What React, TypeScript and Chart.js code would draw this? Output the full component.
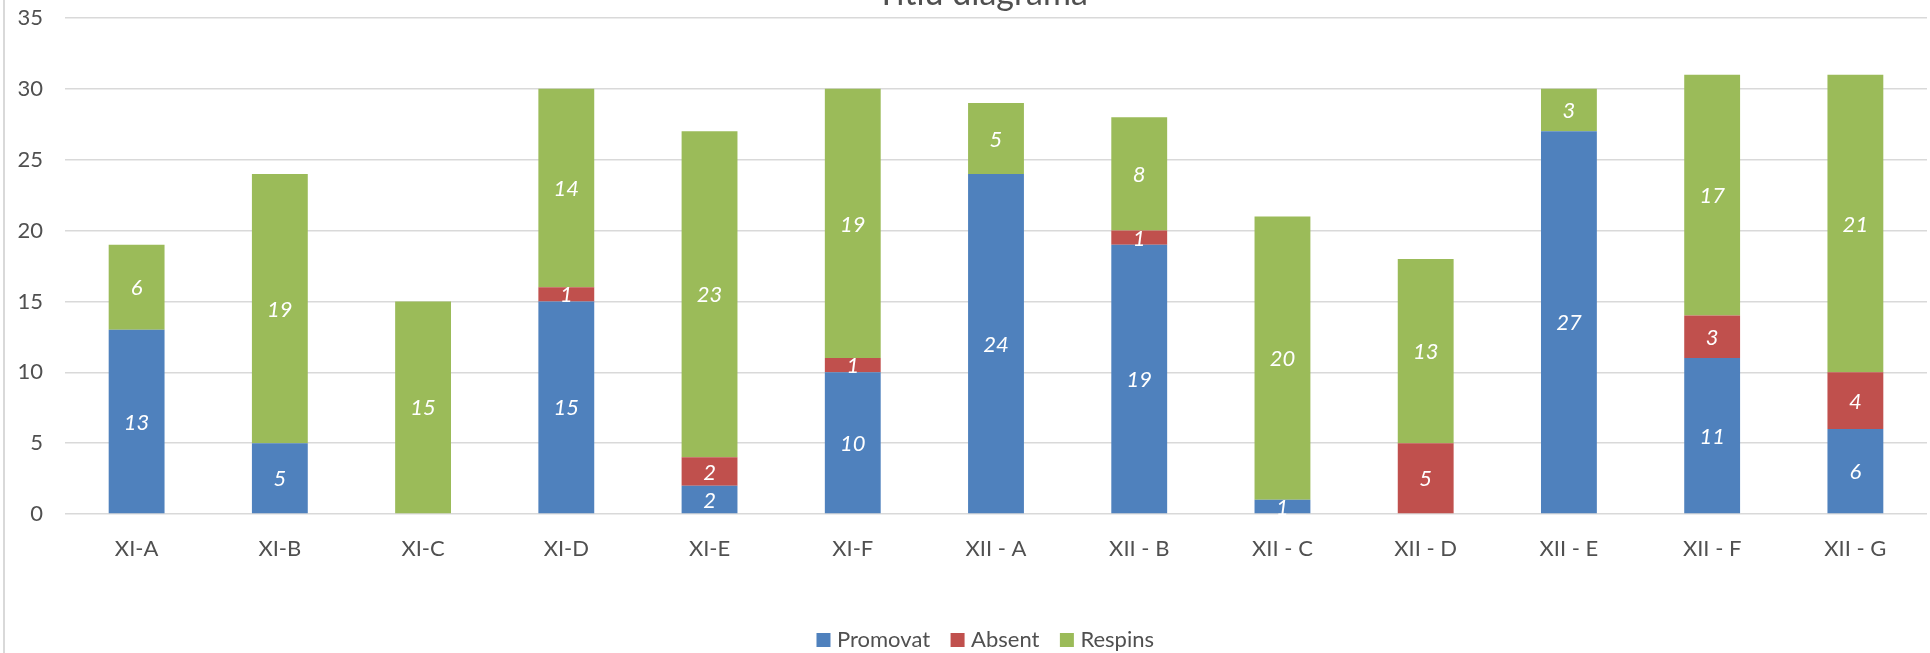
import React, { useEffect, useRef } from "react";
import { Chart, registerables } from "chart.js";

Chart.register(...registerables);

const categories = [
  "XI-A", "XI-B", "XI-C", "XI-D", "XI-E", "XI-F",
  "XII - A", "XII - B", "XII - C", "XII - D", "XII - E", "XII - F", "XII - G",
];
const promovat = [13, 5, 0, 15, 2, 10, 24, 19, 1, 0, 27, 11, 6];
const absent = [0, 0, 0, 1, 2, 1, 0, 1, 0, 5, 0, 3, 4];
const respins = [6, 19, 15, 14, 23, 19, 5, 8, 20, 13, 3, 17, 21];
const seriesNames = ["Promovat", "Absent", "Respins"];
const seriesColors = ["#4F81BD", "#C0504D", "#9BBB59"];
const yTicks = [0, 5, 10, 15, 20, 25, 30, 35];
const titleText = "Titlu diagramă";

const FONT = "Lato, 'Open Sans', sans-serif";
const TEXT = "#505050";

const decorPlugin = {
  id: "decor",
  beforeDraw(chart: any) {
    const ctx = chart.ctx;
    ctx.save();
    ctx.fillStyle = "#ffffff";
    ctx.fillRect(0, 0, chart.width, chart.height);
    ctx.strokeStyle = "#D9D9D9";
    ctx.lineWidth = 2;
    ctx.beginPath();
    ctx.moveTo(4, 0);
    ctx.lineTo(4, chart.height);
    ctx.stroke();
    // chart title, mostly cropped above the visible area
    ctx.fillStyle = TEXT;
    ctx.font = `34px ${FONT}`;
    ctx.textAlign = "center";
    ctx.textBaseline = "alphabetic";
    ctx.fillText(titleText, 982, 5);
    ctx.restore();
  },
  afterDatasetsDraw(chart: any) {
    const ctx = chart.ctx;
    ctx.save();
    ctx.fillStyle = "#ffffff";
    ctx.font = `italic 22px ${FONT}`;
    ctx.textAlign = "center";
    ctx.textBaseline = "middle";
    chart.data.datasets.forEach((ds: any, di: number) => {
      const meta = chart.getDatasetMeta(di);
      meta.data.forEach((el: any, i: number) => {
        const v = ds.data[i];
        if (!v) return;
        const y = (el.y + el.base) / 2;
        ctx.fillText(String(v), el.x, y + 1);
      });
    });
    ctx.restore();
  },
};

const legendPlugin = {
  id: "legendFit",
  beforeInit(c: any) {
    const lg = c.legend;
    if (lg) {
      const orig = lg.fit;
      lg.fit = function () {
        orig.call(this);
        this.height = 49;
      };
    }
  },
  afterLayout(c: any) {
    const lg = c.legend;
    if (lg) {
      lg.left += 24;
      lg.right += 24;
    }
  },
};

export default function App() {
  const ref = useRef<HTMLCanvasElement | null>(null);
  useEffect(() => {
    if (!ref.current) return;
    const chart = new Chart(ref.current, {
      type: "bar",
      data: {
        labels: categories,
        datasets: [promovat, absent, respins].map((d, i) => ({
          label: seriesNames[i],
          data: d,
          backgroundColor: seriesColors[i],
          borderWidth: 0,
          categoryPercentage: 1,
          barPercentage: 0.39,
          pointStyle: "rect",
        })),
      },
      options: {
        animation: false,
        responsive: false,
        devicePixelRatio: 1,
        layout: { padding: { top: 18, left: 0, right: 3, bottom: 0 } },
        scales: {
          x: {
            stacked: true,
            grid: { display: false, drawTicks: false },
            border: { display: false },
            ticks: { color: TEXT, font: { family: FONT, size: 22 }, padding: 22, maxRotation: 0, autoSkip: false },
            afterFit(scale: any) {
              scale.height = 90;
              scale.paddingLeft = 0;
              scale.paddingRight = 0;
            },
          },
          y: {
            stacked: true,
            min: 0,
            max: 35,
            afterBuildTicks(scale: any) {
              scale.ticks = yTicks.map((v) => ({ value: v }));
            },
            grid: { color: "#D9D9D9", lineWidth: 1.5, drawTicks: false },
            border: { display: false },
            ticks: { color: TEXT, font: { family: FONT, size: 22 }, padding: 22 },
            afterFit(scale: any) {
              scale.width = 65;
              scale.paddingTop = 0;
              scale.paddingBottom = 0;
            },
          },
        },
        plugins: {
          title: { display: false },
          tooltip: { enabled: false },
          legend: {
            position: "bottom",
            labels: {
              color: TEXT,
              font: { family: FONT, size: 22 },
              usePointStyle: true,
              boxWidth: 5,
              boxHeight: 14,
              padding: 25,
            },
          },
        },
      },
      plugins: [decorPlugin, legendPlugin],
    });
    return () => chart.destroy();
  }, []);
  return (
    <div style={{ position: "absolute", left: 0, top: 0, width: 1930, height: 653, background: "#fff" }}>
      <canvas ref={ref} width={1930} height={653} style={{ width: 1930, height: 653, display: "block" }} />
    </div>
  );
}
